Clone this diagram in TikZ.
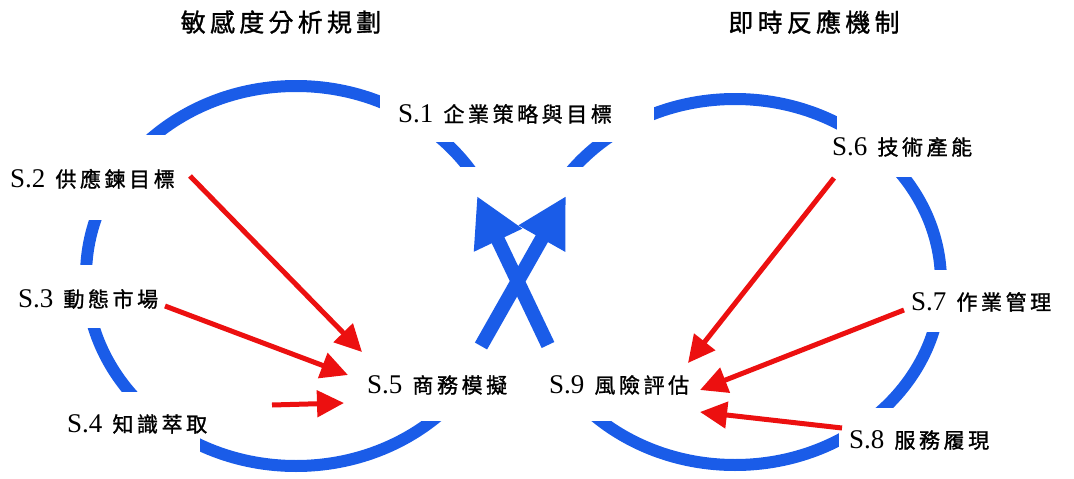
\documentclass[tikz,border=0pt]{standalone}
\usepackage{fontspec}
\setmainfont{Liberation Serif}
\newfontfamily\cjkfont[LetterSpace=17,FakeBold=1.2]{Noto Sans CJK TC}
\usetikzlibrary{arrows.meta}
\definecolor{ringblue}{RGB}{26,92,232}
\definecolor{arrred}{RGB}{236,16,16}
\newcommand{\slab}[2]{{\fontsize{27}{30}\selectfont #1}\hspace{10pt}{\cjkfont\fontsize{21}{24}\selectfont #2}}
\begin{document}
\begin{tikzpicture}[x=1pt,y=-1pt,
  ring/.style={draw=ringblue, line width=12pt},
  cover/.style={fill=white},
  lbl/.style={anchor=base west, inner sep=0pt},
  ttl/.style={anchor=center, inner sep=0pt, font=\cjkfont\fontsize{25}{28}\selectfont},
  redarrow/.style={draw=arrred, line width=5pt, -{Triangle[length=27pt,width=26pt]}},
  bluearrow/.style={draw=ringblue, line width=14pt, -{Triangle[length=49pt,width=50pt]}},
]
\useasboundingbox (0,0) rectangle (1074,479);
% rings
\draw[ring] (296,276) ellipse [x radius=210, y radius=190];
\draw[ring] (735,282) ellipse [x radius=206, y radius=183];
% gaps in the rings
\fill[cover] (380,60) rectangle (654,142);
\fill[cover] (360,167) rectangle (720,421);
\fill[cover] (0,135) rectangle (200,220);
\fill[cover] (0,265) rectangle (180,328);
\fill[cover] (0,392) rectangle (200,479);
\fill[cover] (837,90) rectangle (1074,177);
\fill[cover] (900,270) rectangle (1074,332);
\fill[cover] (839,408) rectangle (1074,479);
% titles
\node[ttl] (t1) at (281,22) {敏感度分析規劃};
\node[ttl] (t2) at (814,22) {即時反應機制};
% labels
\node[lbl] (s1) at (398,122) {\slab{S.1}{企業策略與目標}};
\node[lbl] (s2) at (10,187) {\slab{S.2}{供應鍊目標}};
\node[lbl] (s3) at (18,307) {\slab{S.3}{動態市場}};
\node[lbl] (s4) at (67,432) {\slab{S.4}{知識萃取}};
\node[lbl] (s5) at (367,393) {\slab{S.5}{商務模擬}};
\node[lbl] (s6) at (832,155) {\slab{S.6}{技術產能}};
\node[lbl] (s7) at (911,310) {\slab{S.7}{作業管理}};
\node[lbl] (s8) at (849,448) {\slab{S.8}{服務履現}};
\node[lbl] (s9) at (549,393) {\slab{S.9}{風險評估}};
% red arrow ends
\coordinate (a2s) at (190,176); \coordinate (a2e) at (362,352);
\coordinate (a3s) at (165,306); \coordinate (a3e) at (348,375);
\coordinate (a4s) at (272,405); \coordinate (a4e) at (344,403);
\coordinate (a6s) at (834,178); \coordinate (a6e) at (688,363);
\coordinate (a7s) at (904,310); \coordinate (a7e) at (700,390);
\coordinate (a8s) at (842,428); \coordinate (a8e) at (700,412);
\draw[redarrow] (a2s) -- (a2e);
\draw[redarrow] (a3s) -- (a3e);
\draw[redarrow] (a4s) -- (a4e);
\draw[redarrow] (a6s) -- (a6e);
\draw[redarrow] (a7s) -- (a7e);
\draw[redarrow] (a8s) -- (a8e);
% blue crossing arrows
\coordinate (b1s) at (548,345); \coordinate (b1e) at (477,196);
\coordinate (b2s) at (481,346); \coordinate (b2e) at (566,196);
\draw[bluearrow] (b1s) -- (b1e);
\draw[bluearrow] (b2s) -- (b2e);
\end{tikzpicture}
\end{document}
